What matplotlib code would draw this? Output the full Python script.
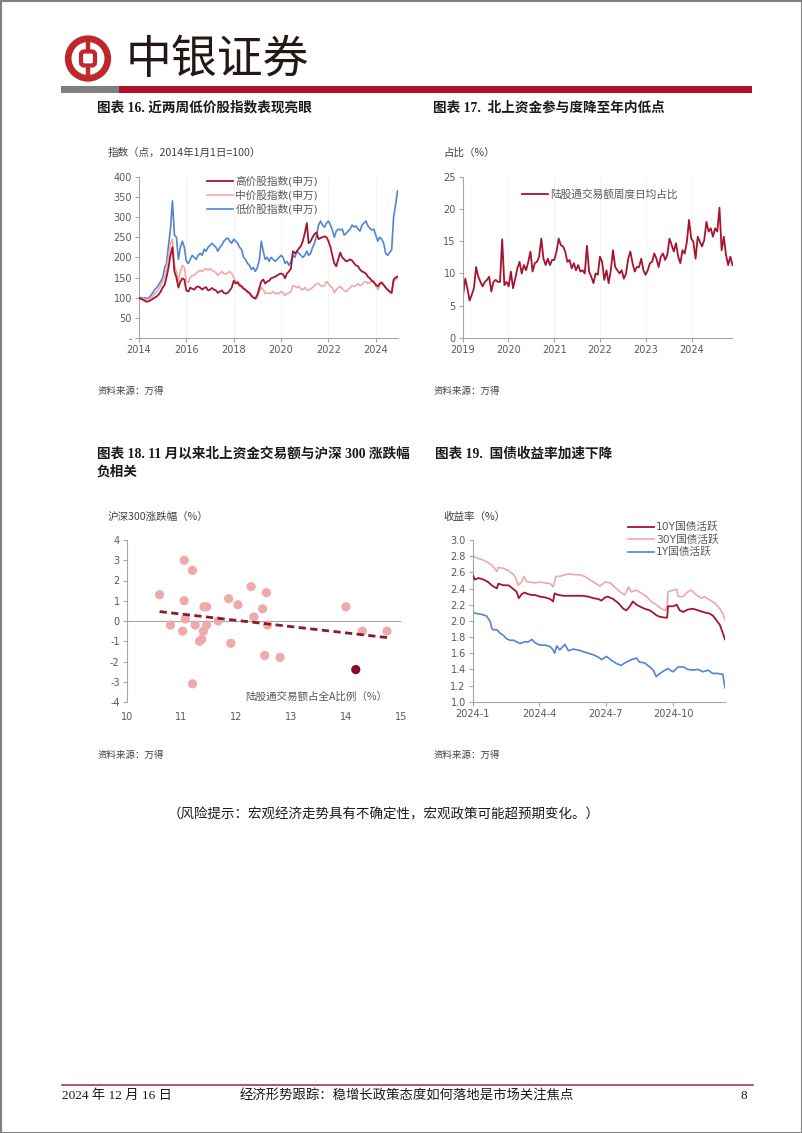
import matplotlib
matplotlib.use('Agg')
import matplotlib.pyplot as plt
import matplotlib.dates as mdates
from matplotlib.patches import Rectangle, Circle, FancyBboxPatch
from matplotlib.ticker import FixedLocator, FuncFormatter
import numpy as np
import pandas as pd

plt.rcParams['font.family'] = ['DejaVu Sans', 'Noto Sans CJK SC']
plt.rcParams['axes.unicode_minus'] = False

# ---------------- data ----------------
# Chart 16: monthly index values (2014-01 .. 2024-12)
idx_high = [100, 97, 95, 92, 90, 91, 94, 97, 100, 103, 108, 115,
            125, 132, 150, 175, 205, 225, 165, 150, 125, 140, 148, 145,
            118, 115, 125, 122, 120, 126, 128, 125, 120, 124, 126, 118,
            120, 124, 120, 118, 112, 115, 118, 112, 110, 112, 118, 125,
            142, 135, 138, 130, 128, 122, 120, 115, 112, 105, 100, 98,
            108, 125, 140, 145, 135, 140, 142, 148, 150, 152, 155, 158,
            160, 158, 148, 160, 165, 172, 215, 210, 215, 222, 228, 240,
            260, 285, 235, 240, 250, 258, 262, 245, 248, 250, 252, 250,
            240, 225, 205, 185, 178, 195, 212, 200, 195, 190, 192, 195,
            192, 185, 180, 178, 170, 165, 163, 160, 152, 148, 142, 138,
            132, 128, 135, 138, 132, 125, 120, 115, 112, 145, 150, 152]
idx_mid = [100, 98, 97, 96, 95, 97, 100, 104, 110, 115, 122, 130,
           140, 150, 175, 200, 235, 245, 180, 165, 140, 165, 180, 175,
           140, 138, 150, 155, 155, 160, 165, 168, 165, 170, 172, 168,
           172, 168, 165, 162, 155, 160, 165, 160, 158, 162, 165, 160,
           150, 140, 140, 135, 130, 125, 118, 112, 110, 102, 100, 96,
           100, 115, 125, 120, 110, 112, 110, 112, 115, 110, 112, 110,
           115, 112, 105, 110, 112, 115, 130, 128, 125, 128, 122, 120,
           125, 120, 118, 122, 125, 130, 135, 135, 130, 128, 130, 140,
           135, 128, 125, 112, 120, 125, 128, 122, 118, 115, 120, 125,
           130, 128, 130, 135, 130, 132, 138, 140, 135, 138, 140, 142,
           130, 120, 130, 135, 130, 125, 118, 115, 110, 140, 145, 148]
idx_low = [100, 100, 98, 100, 97, 100, 105, 112, 120, 125, 132, 140,
           150, 175, 185, 230, 270, 340, 255, 250, 195, 225, 240, 225,
           190, 185, 195, 205, 200, 195, 205, 210, 205, 220, 215, 225,
           230, 235, 230, 225, 215, 225, 230, 240, 245, 248, 240, 235,
           245, 240, 235, 225, 220, 200, 195, 185, 180, 170, 175, 165,
           175, 195, 240, 215, 195, 200, 190, 200, 195, 190, 195, 200,
           205, 200, 185, 190, 180, 190, 205, 200, 215, 210, 205, 200,
           205, 215, 205, 210, 225, 235, 255, 280, 290, 280, 275, 285,
           290, 280, 268, 250, 265, 270, 268, 270, 255, 260, 265, 270,
           280, 275, 278, 270, 265, 280, 285, 290, 278, 272, 268, 270,
           255, 240, 250, 245, 235, 210, 205, 212, 218, 300, 330, 365]
idx_labels = ['高价股指数(申万)', '中价股指数(申万)', '低价股指数(申万)']

# Chart 17: weekly-ish share of northbound turnover (%), 2019-01 .. 2024-11
nb_share = [6.7, 9.2, 7.7, 5.8, 6.7, 7.7, 11.0, 9.5, 8.7, 8.0, 8.7, 9.0, 9.5, 7.2, 8.7,
            9.0, 8.7, 8.7, 15.3, 8.2, 8.7, 8.0, 10.3, 7.7, 9.2, 10.8, 11.8, 10.0, 11.3,
            10.5, 11.8, 13.4, 10.3, 11.6, 11.8, 12.6, 15.4, 12.3, 11.3, 12.3, 11.3, 12.1,
            12.1, 13.4, 15.4, 14.4, 14.2, 13.4, 11.8, 12.1, 10.8, 11.6, 10.5, 11.3, 10.3,
            10.5, 10.0, 14.3, 10.3, 9.5, 8.5, 10.0, 9.8, 12.6, 11.8, 9.0, 10.5, 8.5, 10.5,
            13.6, 11.0, 10.5, 10.0, 10.5, 9.2, 10.0, 12.3, 13.4, 11.6, 10.3, 11.0, 11.0,
            12.3, 10.5, 9.8, 10.5, 11.6, 11.8, 13.1, 12.3, 11.0, 12.6, 13.1, 12.1, 12.9,
            15.4, 14.4, 13.4, 14.7, 12.6, 11.6, 13.6, 13.1, 14.9, 18.3, 15.4, 14.9, 12.3,
            15.7, 14.9, 14.2, 15.2, 18.0, 16.5, 17.0, 15.7, 17.0, 16.5, 20.2, 13.6, 15.7,
            12.9, 11.3, 12.6, 11.3]
nb_label = '陆股通交易额周度日均占比'

# Chart 18: scatter (x: northbound share %, y: CSI300 change %)
sc_share = [10.6, 11.05, 11.2, 11.05, 10.8, 11.07, 11.02, 11.25, 11.41, 11.46, 11.4, 11.46,
            11.37, 11.33, 11.2, 11.67, 11.86, 12.03, 11.9, 12.27, 12.32, 12.48, 12.55, 12.57,
            12.52, 12.8, 14.0, 14.3, 14.75]
sc_chg = [1.3, 3.0, 2.5, 1.0, -0.2, 0.1, -0.5, -0.2, 0.7, 0.7, -0.5, -0.2,
          -0.9, -1.0, -3.1, 0.0, 1.1, 0.8, -1.1, 1.7, 0.2, 0.6, 1.4, -0.2,
          -1.7, -1.8, 0.7, -0.5, -0.5]
sc_last_share = [14.18]
sc_last_chg = [-2.4]

# Chart 19: bond yields (%), day offsets from 2024-01-01
y10_day = [0, 3, 8, 15, 21, 26, 33, 35, 42, 49, 56, 60, 63, 67, 71, 76, 81, 85, 92, 99, 106,
           110, 112, 117, 124, 131, 137, 144, 151, 158, 165, 172, 176, 181, 185, 192, 199,
           206, 210, 215, 219, 224, 228, 235, 242, 247, 251, 256, 263, 266, 267, 274, 279,
           283, 288, 294, 301, 308, 315, 319, 324, 329, 333, 338, 342, 345]
y10_val = [2.57, 2.51, 2.53, 2.51, 2.48, 2.44, 2.40, 2.46, 2.44, 2.44, 2.39, 2.36, 2.28, 2.33,
           2.35, 2.33, 2.32, 2.32, 2.30, 2.29, 2.27, 2.24, 2.34, 2.32, 2.31, 2.31, 2.31, 2.31,
           2.31, 2.30, 2.28, 2.27, 2.25, 2.29, 2.30, 2.27, 2.22, 2.15, 2.13, 2.18, 2.24, 2.20,
           2.18, 2.15, 2.13, 2.10, 2.07, 2.05, 2.04, 2.04, 2.18, 2.18, 2.20, 2.13, 2.11, 2.14,
           2.15, 2.13, 2.11, 2.10, 2.09, 2.06, 2.01, 1.95, 1.85, 1.77]
y30_day = [0, 3, 8, 15, 21, 26, 30, 33, 35, 42, 49, 56, 60, 62, 67, 70, 74, 78, 85, 92, 99,
           106, 110, 114, 119, 126, 133, 140, 147, 153, 160, 167, 174, 181, 188, 194, 201,
           208, 213, 217, 224, 231, 238, 244, 251, 258, 263, 266, 267, 274, 279, 281, 288,
           294, 299, 306, 313, 317, 324, 331, 338, 342, 345]
y30_val = [2.81, 2.79, 2.77, 2.75, 2.72, 2.69, 2.65, 2.61, 2.66, 2.65, 2.62, 2.57, 2.51, 2.44,
           2.48, 2.55, 2.48, 2.48, 2.47, 2.48, 2.47, 2.46, 2.42, 2.55, 2.55, 2.57, 2.58, 2.57,
           2.57, 2.55, 2.51, 2.47, 2.43, 2.48, 2.47, 2.42, 2.36, 2.32, 2.42, 2.36, 2.38, 2.34,
           2.30, 2.24, 2.20, 2.15, 2.13, 2.18, 2.36, 2.38, 2.39, 2.30, 2.30, 2.36, 2.38, 2.32,
           2.28, 2.30, 2.26, 2.22, 2.15, 2.09, 2.01]
y1_day = [0, 5, 12, 19, 24, 26, 28, 33, 37, 42, 46, 51, 56, 60, 65, 71, 76, 81, 85, 92, 99,
          106, 110, 112, 115, 119, 126, 131, 137, 144, 151, 158, 165, 172, 176, 183, 190, 197,
          203, 210, 217, 224, 228, 235, 242, 247, 251, 256, 263, 267, 270, 274, 281, 288, 294,
          301, 308, 315, 322, 328, 335, 340, 342, 345]
y1_val = [2.11, 2.09, 2.08, 2.06, 1.99, 1.91, 1.89, 1.89, 1.85, 1.82, 1.78, 1.76, 1.76, 1.74,
          1.72, 1.74, 1.74, 1.77, 1.73, 1.70, 1.70, 1.68, 1.64, 1.60, 1.69, 1.64, 1.71, 1.63,
          1.65, 1.64, 1.62, 1.60, 1.58, 1.55, 1.52, 1.56, 1.51, 1.47, 1.45, 1.49, 1.52, 1.54,
          1.49, 1.48, 1.43, 1.39, 1.31, 1.35, 1.39, 1.41, 1.39, 1.37, 1.43, 1.43, 1.40, 1.39,
          1.40, 1.37, 1.39, 1.35, 1.35, 1.34, 1.34, 1.17]
bond_labels = ['10Y国债活跃', '30Y国债活跃', '1Y国债活跃']

# ---------------- styling ----------------
W, H = 802, 1133
DARK = '#A8132F'
PINK = '#F0A8A8'
BLUE = '#5085D2'
GREY_TXT = '#595959'
AX_GREY = '#A6A6A6'
CJK = ['Noto Sans CJK SC', 'DejaVu Sans']
SERIF = ['Liberation Serif', 'Noto Sans CJK SC']
TICK_FS = 7.0
LAB_FS = 7.6
LEG_FS = 7.7

fig = plt.figure(figsize=(W / 100, H / 100), dpi=100)
fig.patch.set_facecolor('white')
bg = fig.add_axes([0, 0, 1, 1], zorder=0)
bg.set_xlim(0, W)
bg.set_ylim(H, 0)
bg.axis('off')


def px_axes(l, t, r, b):
    return fig.add_axes([l / W, 1 - b / H, (r - l) / W, (b - t) / H], zorder=2)


def style(ax):
    for s in ['top', 'right']:
        ax.spines[s].set_visible(False)
    for s in ['left', 'bottom']:
        ax.spines[s].set_color(AX_GREY)
        ax.spines[s].set_linewidth(0.8)
    ax.tick_params(labelsize=TICK_FS, labelcolor=GREY_TXT, color=AX_GREY,
                   length=3, width=0.8, pad=2)
    ax.set_facecolor('none')


def fig_pt(x, y):
    return (x / W, 1 - y / H)


# page frame
bg.add_patch(Rectangle((0.5, 0.5), W - 1, H - 1, fill=False, ec='#808080', lw=1.5))

# logo
RED_LOGO = '#C0272D'
cx, cy = 88, 58.5
bg.add_patch(Circle((cx, cy), 19.8, fill=False, ec=RED_LOGO, lw=4.8))
bg.add_patch(FancyBboxPatch((cx - 7, cy - 7), 14, 14,
                            boxstyle='round,pad=0,rounding_size=3',
                            fill=False, ec=RED_LOGO, lw=3.0))
bg.plot([cx, cx], [cy - 19.5, cy - 7], color=RED_LOGO, lw=3.2, solid_capstyle='butt')
bg.plot([cx, cx], [cy + 7, cy + 19.5], color=RED_LOGO, lw=3.2, solid_capstyle='butt')
bg.text(126, 60, '中银证券', fontsize=33, family=CJK, color='#231815',
        va='center', ha='left')
bg.add_patch(Rectangle((61, 86), 58, 6.5, fc='#7F7F7F', ec='none'))
bg.add_patch(Rectangle((119, 86), 633, 6.5, fc='#B3122E', ec='none'))

# titles
TITLE_FS = 9.8
TC = '#1A1A1A'
bg.text(97, 108, '图表 16. 近两周低价股指数表现亮眼', fontsize=TITLE_FS, weight='bold',
        family=SERIF, va='center', color=TC)
bg.text(433, 108, '图表 17.  北上资金参与度降至年内低点', fontsize=TITLE_FS, weight='bold',
        family=SERIF, va='center', color=TC)
bg.text(97, 454, '图表 18. 11 月以来北上资金交易额与沪深 300 涨跌幅', fontsize=TITLE_FS,
        weight='bold', family=SERIF, va='center', color=TC)
bg.text(97, 472, '负相关', fontsize=TITLE_FS, weight='bold', family=SERIF,
        va='center', color=TC)
bg.text(435, 454, '图表 19.  国债收益率加速下降', fontsize=TITLE_FS, weight='bold',
        family=SERIF, va='center', color=TC)

# sources
for (sx, sy) in [(97, 391), (433, 391), (97, 755), (433, 755)]:
    bg.text(sx, sy, '资料来源：万得', fontsize=6.8, family=CJK, color='#404040',
            va='center', style='italic')

bg.text(168, 815, '（风险提示：宏观经济走势具有不确定性，宏观政策可能超预期变化。）',
        fontsize=9.7, family=SERIF, va='center', color=TC)

# footer
bg.plot([62, 753], [1085, 1085], color='#A3214A', lw=1.1)
bg.text(62, 1096, '2024 年 12 月 16 日', fontsize=9.5, family=SERIF, va='center', color=TC)
bg.text(240, 1096, '经济形势跟踪：稳增长政策态度如何落地是市场关注焦点', fontsize=9.6,
        family=SERIF, va='center', color=TC)
bg.text(747, 1096, '8', fontsize=9.5, family=SERIF, va='center', ha='right', color=TC)

# ---------------- Chart 16 ----------------
ax1 = px_axes(139, 176.7, 398, 338)
style(ax1)
d16 = pd.date_range('2014-01-01', periods=len(idx_high), freq='MS')
l_low, = ax1.plot(d16, idx_low, color=BLUE, lw=1.2, zorder=1)
l_mid, = ax1.plot(d16, idx_mid, color=PINK, lw=1.2, zorder=2)
l_high, = ax1.plot(d16, idx_high, color=DARK, lw=1.3, zorder=3)
ax1.set_ylim(0, 400)
ax1.set_xlim(pd.Timestamp('2014-01-01'), pd.Timestamp('2024-12-08'))
ax1.yaxis.set_major_locator(FixedLocator(np.arange(0, 401, 50)))
ax1.yaxis.set_major_formatter(FuncFormatter(lambda v, p: '-' if v == 0 else f'{int(v)}'))
ax1.xaxis.set_major_locator(mdates.YearLocator(2))
ax1.xaxis.set_major_formatter(mdates.DateFormatter('%Y'))
ax1.grid(axis='x', color='#F2F2F2', lw=0.6)
ax1.set_axisbelow(True)
ax1.legend([l_high, l_mid, l_low], idx_labels, loc='upper left',
           bbox_to_anchor=fig_pt(207, 176), bbox_transform=fig.transFigure,
           frameon=False, fontsize=LEG_FS, handlelength=2.4, handletextpad=0.25,
           labelspacing=0.33, borderpad=0, borderaxespad=0, labelcolor=GREY_TXT)
bg.text(108, 153, '指数（点，2014年1月1日=100）', fontsize=LAB_FS, family=CJK,
        color='#404040', va='center')

# ---------------- Chart 17 ----------------
ax2 = px_axes(462.7, 176.7, 732.5, 338)
style(ax2)
d17 = pd.date_range('2019-01-04', '2024-11-22', periods=len(nb_share))
l_nb, = ax2.plot(d17, nb_share, color=DARK, lw=1.3)
ax2.set_ylim(0, 25)
ax2.set_xlim(pd.Timestamp('2019-01-01'), pd.Timestamp('2024-11-22'))
ax2.yaxis.set_major_locator(FixedLocator(np.arange(0, 26, 5)))
ax2.xaxis.set_major_locator(mdates.YearLocator(1))
ax2.xaxis.set_major_formatter(mdates.DateFormatter('%Y'))
ax2.grid(axis='x', color='#F2F2F2', lw=0.6)
ax2.set_axisbelow(True)
ax2.legend([l_nb], [nb_label], loc='upper left',
           bbox_to_anchor=fig_pt(522, 189), bbox_transform=fig.transFigure,
           frameon=False, fontsize=LEG_FS, handlelength=2.4, handletextpad=0.2,
           borderpad=0, borderaxespad=0, labelcolor=GREY_TXT)
bg.text(443, 153, '占比（%）', fontsize=LAB_FS, family=CJK, color='#404040', va='center')

# ---------------- Chart 18 ----------------
ax3 = px_axes(126.7, 540, 400.7, 702)
style(ax3)
ax3.spines['bottom'].set_visible(False)
ax3.axhline(0, color=AX_GREY, lw=0.8, zorder=1)
ax3.scatter(sc_share, sc_chg, s=44, color='#EEAAAA', edgecolors='none', zorder=2)
ax3.scatter(sc_last_share, sc_last_chg, s=44, color='#8B0A26', edgecolors='none', zorder=3)
all_x = np.array(sc_share + sc_last_share)
all_y = np.array(sc_chg + sc_last_chg)
k, b0 = np.polyfit(all_x, all_y, 1)
xx = np.array([all_x.min(), all_x.max()])
ax3.plot(xx, k * xx + b0, color='#8B1A2B', lw=2.0, linestyle=(0, (2.6, 1.6)), zorder=4)
ax3.set_xlim(10, 15)
ax3.set_ylim(-4, 4)
ax3.yaxis.set_major_locator(FixedLocator(np.arange(-4, 5, 1)))
ax3.xaxis.set_major_locator(FixedLocator(np.arange(10, 16, 1)))
ax3.tick_params(axis='x', length=0, pad=7)
bg.text(387, 697, '陆股通交易额占全A比例（%）', fontsize=LAB_FS, family=CJK,
        color=GREY_TXT, va='center', ha='right')
bg.text(108, 517, '沪深300涨跌幅（%）', fontsize=LAB_FS, family=CJK,
        color='#404040', va='center')

# ---------------- Chart 19 ----------------
ax4 = px_axes(472.7, 540, 725, 701.7)
style(ax4)
base = pd.Timestamp('2024-01-01')
dd = lambda days: base + pd.to_timedelta(days, unit='D')
l10, = ax4.plot(dd(y10_day), y10_val, color=DARK, lw=1.3, zorder=3)
l30, = ax4.plot(dd(y30_day), y30_val, color=PINK, lw=1.2, zorder=2)
l1, = ax4.plot(dd(y1_day), y1_val, color=BLUE, lw=1.2, zorder=2)
ax4.set_ylim(1.0, 3.0)
ax4.set_xlim(base, base + pd.Timedelta(days=345))
ax4.yaxis.set_major_locator(FixedLocator(np.round(np.arange(1.0, 3.01, 0.2), 1)))
ax4.yaxis.set_major_formatter(FuncFormatter(lambda v, p: f'{v:.1f}'))
xt = [pd.Timestamp('2024-01-01'), pd.Timestamp('2024-04-01'),
      pd.Timestamp('2024-07-01'), pd.Timestamp('2024-10-01')]
ax4.set_xticks(xt)
ax4.set_xticklabels(['2024-1', '2024-4', '2024-7', '2024-10'])
ax4.legend([l10, l30, l1], bond_labels, loc='upper left',
           bbox_to_anchor=fig_pt(628, 522), bbox_transform=fig.transFigure,
           frameon=False, fontsize=LEG_FS, handlelength=2.4, handletextpad=0.2,
           labelspacing=0.2, borderpad=0, borderaxespad=0, labelcolor=GREY_TXT)
bg.text(443, 517, '收益率（%）', fontsize=LAB_FS, family=CJK, color='#404040', va='center')

fig.savefig('out.png', dpi=100)
